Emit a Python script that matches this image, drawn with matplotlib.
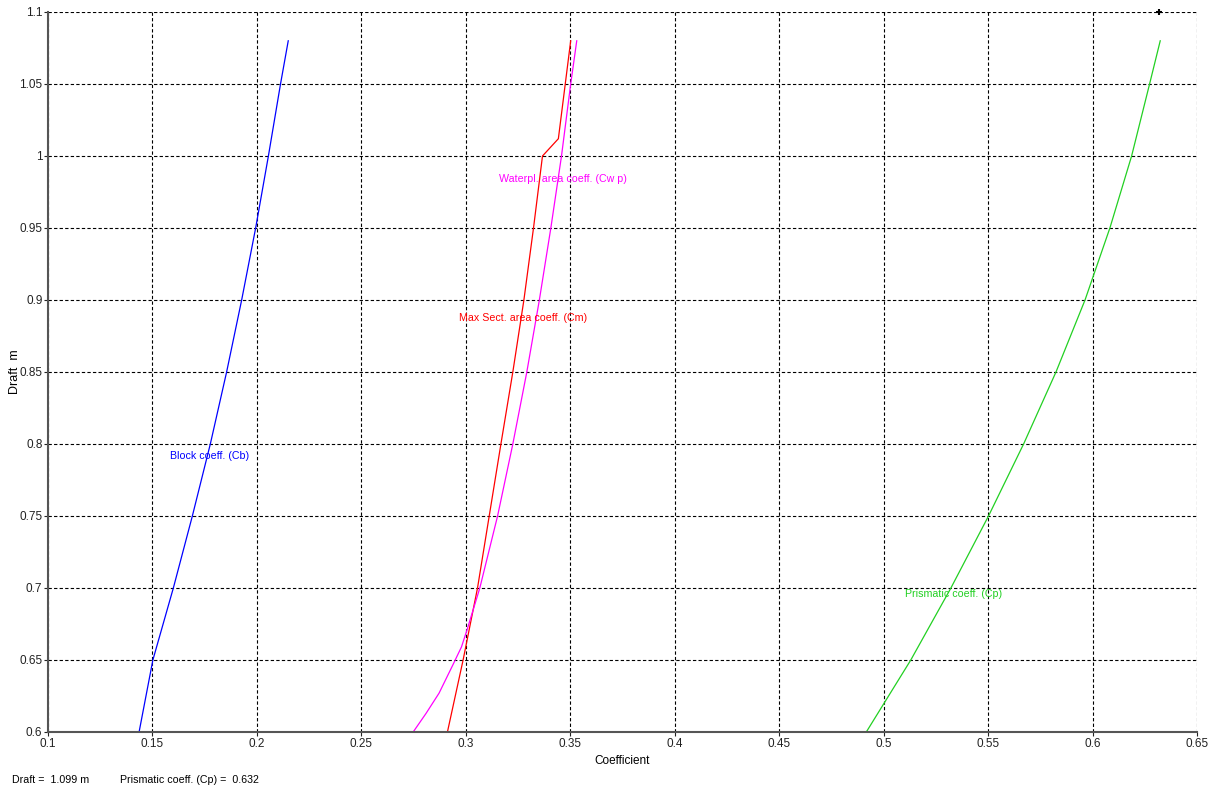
import matplotlib
matplotlib.use("Agg")
import matplotlib.pyplot as plt
from matplotlib import font_manager

# Hull form coefficients against draft
draft_cb = [0.60, 0.65, 0.70, 0.75, 0.80, 0.85, 0.90, 0.95, 1.00, 1.05, 1.08]
block_cb = [0.1436, 0.1502, 0.1600, 0.1691, 0.1777, 0.1855, 0.1927, 0.1994, 0.2055, 0.2113, 0.2150]

draft_cm = [0.60, 0.65, 0.70, 0.75, 0.80, 0.85, 0.90, 0.95, 1.00, 1.012, 1.08]
midship_cm = [0.2912, 0.2987, 0.3056, 0.3112, 0.3168, 0.3225, 0.3278, 0.3324, 0.3367, 0.3443, 0.3502]

draft_cwp = [0.60, 0.613, 0.627, 0.646, 0.659, 0.671, 0.70, 0.75, 0.80, 0.85, 0.90, 0.95, 1.00, 1.05, 1.08]
waterplane_cwp = [0.2748, 0.2810, 0.2872, 0.2936, 0.2979, 0.3006, 0.3067, 0.3152, 0.3225, 0.3292, 0.3352,
                  0.3407, 0.3458, 0.3502, 0.3531]

draft_cp = [0.60, 0.65, 0.70, 0.75, 0.80, 0.85, 0.90, 0.95, 1.00, 1.05, 1.08]
prismatic_cp = [0.4917, 0.5130, 0.5322, 0.5502, 0.5670, 0.5825, 0.5964, 0.6083, 0.6187, 0.6273, 0.6324]

x_ticks = [0.1, 0.15, 0.2, 0.25, 0.3, 0.35, 0.4, 0.45, 0.5, 0.55, 0.6, 0.65]
y_ticks = [0.6, 0.65, 0.7, 0.75, 0.8, 0.85, 0.9, 0.95, 1.0, 1.05, 1.1]
x_tick_labels = ["0.1", "0.15", "0.2", "0.25", "0.3", "0.35", "0.4", "0.45", "0.5", "0.55", "0.6", "0.65"]
y_tick_labels = ["0.6", "0.65", "0.7", "0.75", "0.8", "0.85", "0.9", "0.95", "1", "1.05", "1.1"]

cursor_draft = 1.099
cursor_cp = 0.632

installed = {f.name for f in font_manager.fontManager.ttflist}
narrow = "Liberation Sans Narrow" if "Liberation Sans Narrow" in installed else "Liberation Sans"
plt.rcParams["font.family"] = [narrow, "DejaVu Sans"]

fig = plt.figure(figsize=(12.21, 7.89), dpi=100)
ax = fig.add_axes([48 / 1221, 1 - 732 / 789, (1197 - 48) / 1221, (732 - 12) / 789])

blue, red, magenta, green = "#0000ff", "#ff0000", "#ff00ff", "#22d022"
ax.plot(block_cb, draft_cb, color=blue, lw=0.9)
ax.plot(midship_cm, draft_cm, color=red, lw=0.9)
ax.plot(waterplane_cwp, draft_cwp, color=magenta, lw=0.9)
ax.plot(prismatic_cp, draft_cp, color=green, lw=0.9)

lab_fs = 7.7
ax.text(0.1584, 0.7917, "Block coeff. (Cb)", color=blue, fontsize=lab_fs, va="center", ha="left")
ax.text(0.3158, 0.984, "Waterpl. area coeff. (Cw p)", color=magenta, fontsize=lab_fs, va="center", ha="left")
ax.text(0.2968, 0.8877, "Max Sect. area coeff. (Cm)", color=red, fontsize=lab_fs, va="center", ha="left")
ax.text(0.5102, 0.6956, "Prismatic coeff. (Cp)", color=green, fontsize=lab_fs, va="center", ha="left")

ax.plot([cursor_cp], [1.1], marker="+", color="black", ms=5, mew=1.5, clip_on=False, zorder=5)

ax.set_xlim(0.1, 0.65)
ax.set_ylim(0.6, 1.1)
ax.set_xticks(x_ticks)
ax.set_xticklabels(x_tick_labels)
ax.set_yticks(y_ticks)
ax.set_yticklabels(y_tick_labels)
ax.tick_params(axis="both", direction="out", length=3, width=0.8, pad=1, labelsize=8.5, colors="#222222")
ax.grid(True, color="black", linestyle=(0, (3, 2)), linewidth=0.8)
ax.set_axisbelow(True)

for side in ("top", "right"):
    ax.spines[side].set_visible(False)
for side in ("left", "bottom"):
    ax.spines[side].set_color("#555555")
    ax.spines[side].set_linewidth(1.5)

ax.set_xlabel("Coefficient", fontsize=8.5, labelpad=4)
ax.set_ylabel("Draft  m", fontsize=9, va="center")
ax.yaxis.set_label_coords(-33 / 1149, 0.5)

fig.text(12 / 1221, 1 - 780 / 789, f"Draft =  {cursor_draft:.3f} m", fontsize=7.7, va="center", ha="left")
fig.text(120 / 1221, 1 - 780 / 789, f"Prismatic coeff. (Cp) =  {cursor_cp:.3f}", fontsize=7.7, va="center", ha="left")

fig.savefig("out.png", dpi=100)
